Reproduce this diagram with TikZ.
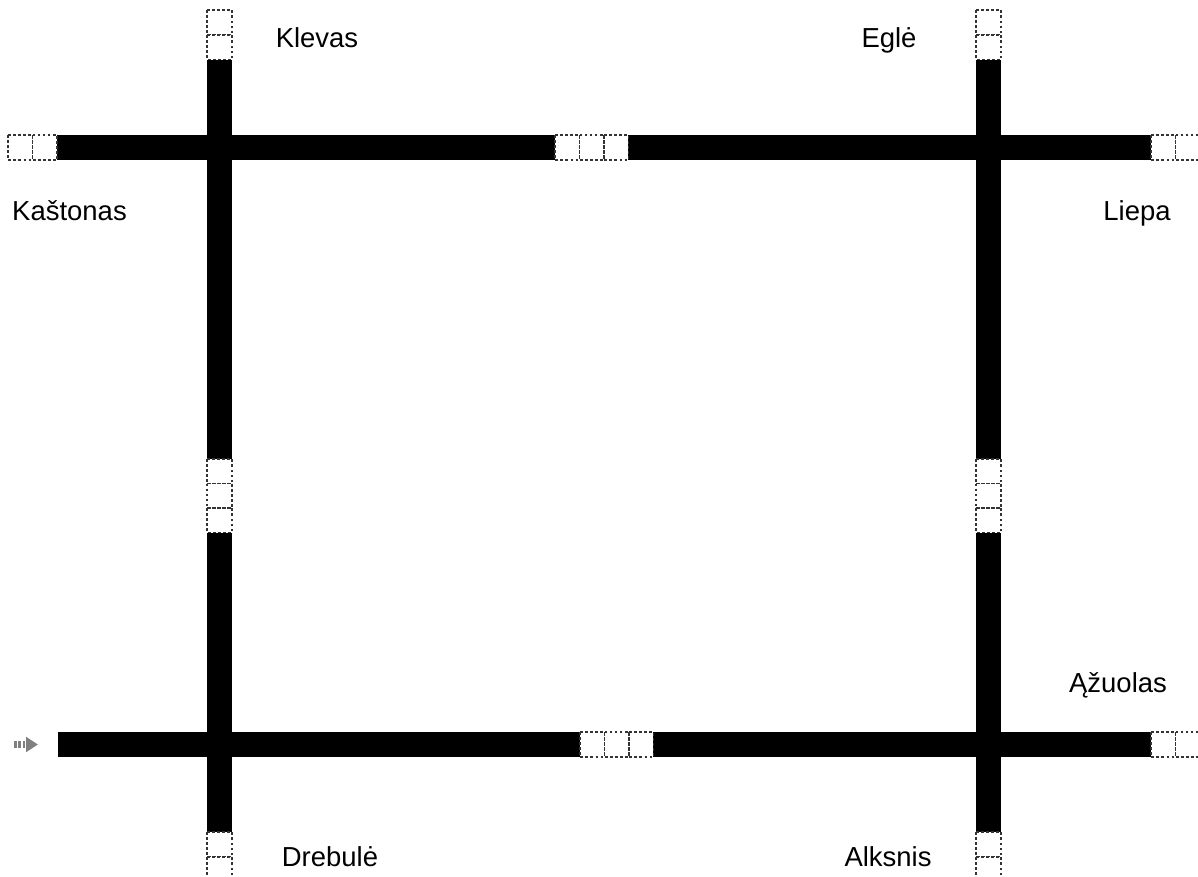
\documentclass[tikz,border=0pt]{standalone}
\usepackage{fontspec}
\setmainfont{Liberation Sans}
\usepackage{tikz}
\usetikzlibrary{arrows.meta, positioning}

\tikzset{
  road/.style={fill=black},
  cell/.style={draw=black!80, line width=0.8pt, dash pattern=on 2pt off 1.8pt},
  street/.style={inner sep=0.75pt, font=\fontsize{20.6}{24}\selectfont, anchor=base}
}

\begin{document}
\begin{tikzpicture}[x=0.75pt,y=0.75pt,yscale=-1,xscale=1]
\useasboundingbox (0,0) rectangle (1198,876);

%Top road
\fill [road] (57,135) rectangle (555,160) ;
\fill [road] (628,135) rectangle (1151,160) ;
%Bottom road
\fill [road] (58,732) rectangle (580,757) ;
\fill [road] (653,732) rectangle (1151,757) ;
%Left road
\fill [road] (207,60) rectangle (232,459) ;
\fill [road] (207,533) rectangle (232,832) ;
%Right road
\fill [road] (976,60) rectangle (1001,459) ;
\fill [road] (976,533) rectangle (1001,832) ;

%Empty cells, horizontal
\foreach \x in {8,32.5,555,579.5,604,1151,1175.5}
  \draw [cell] (\x,135) rectangle ++(24.5,25) ;
\foreach \x in {580,604.5,629,1151,1175.5}
  \draw [cell] (\x,732) rectangle ++(24.5,25) ;
%Empty cells, vertical
\foreach \x in {207,976}{
  \foreach \y in {10,35,459,483.5,508,832,857}
    \draw [cell] (\x,\y) rectangle ++(25,24.5) ;
}

%Entry arrow
\coordinate (in) at (14,744.5) ;
\coordinate (out) at (38,744.5) ;
\draw [color={rgb, 255:red, 128; green, 128; blue, 128 }, line width=4.8pt, dash pattern=on 2pt off 1.2pt, -{Triangle[length=9pt, width=11pt]}] (in) -- (out) ;

% Text Node
\node [street] (klevas) at (317,47) {Klevas};
\node [street] (egle) at (889,47) {Eglė};
\node [street] (kastonas) at (69.5,220) {Kaštonas};
\node [street] (liepa) at (1137,220) {Liepa};
\node [street] (azuolas) at (1118,692) {Ąžuolas};
\node [street] (drebule) at (330,866) {Drebulė};
\node [street] (alksnis) at (888,866) {Alksnis};

\end{tikzpicture}
\end{document}
